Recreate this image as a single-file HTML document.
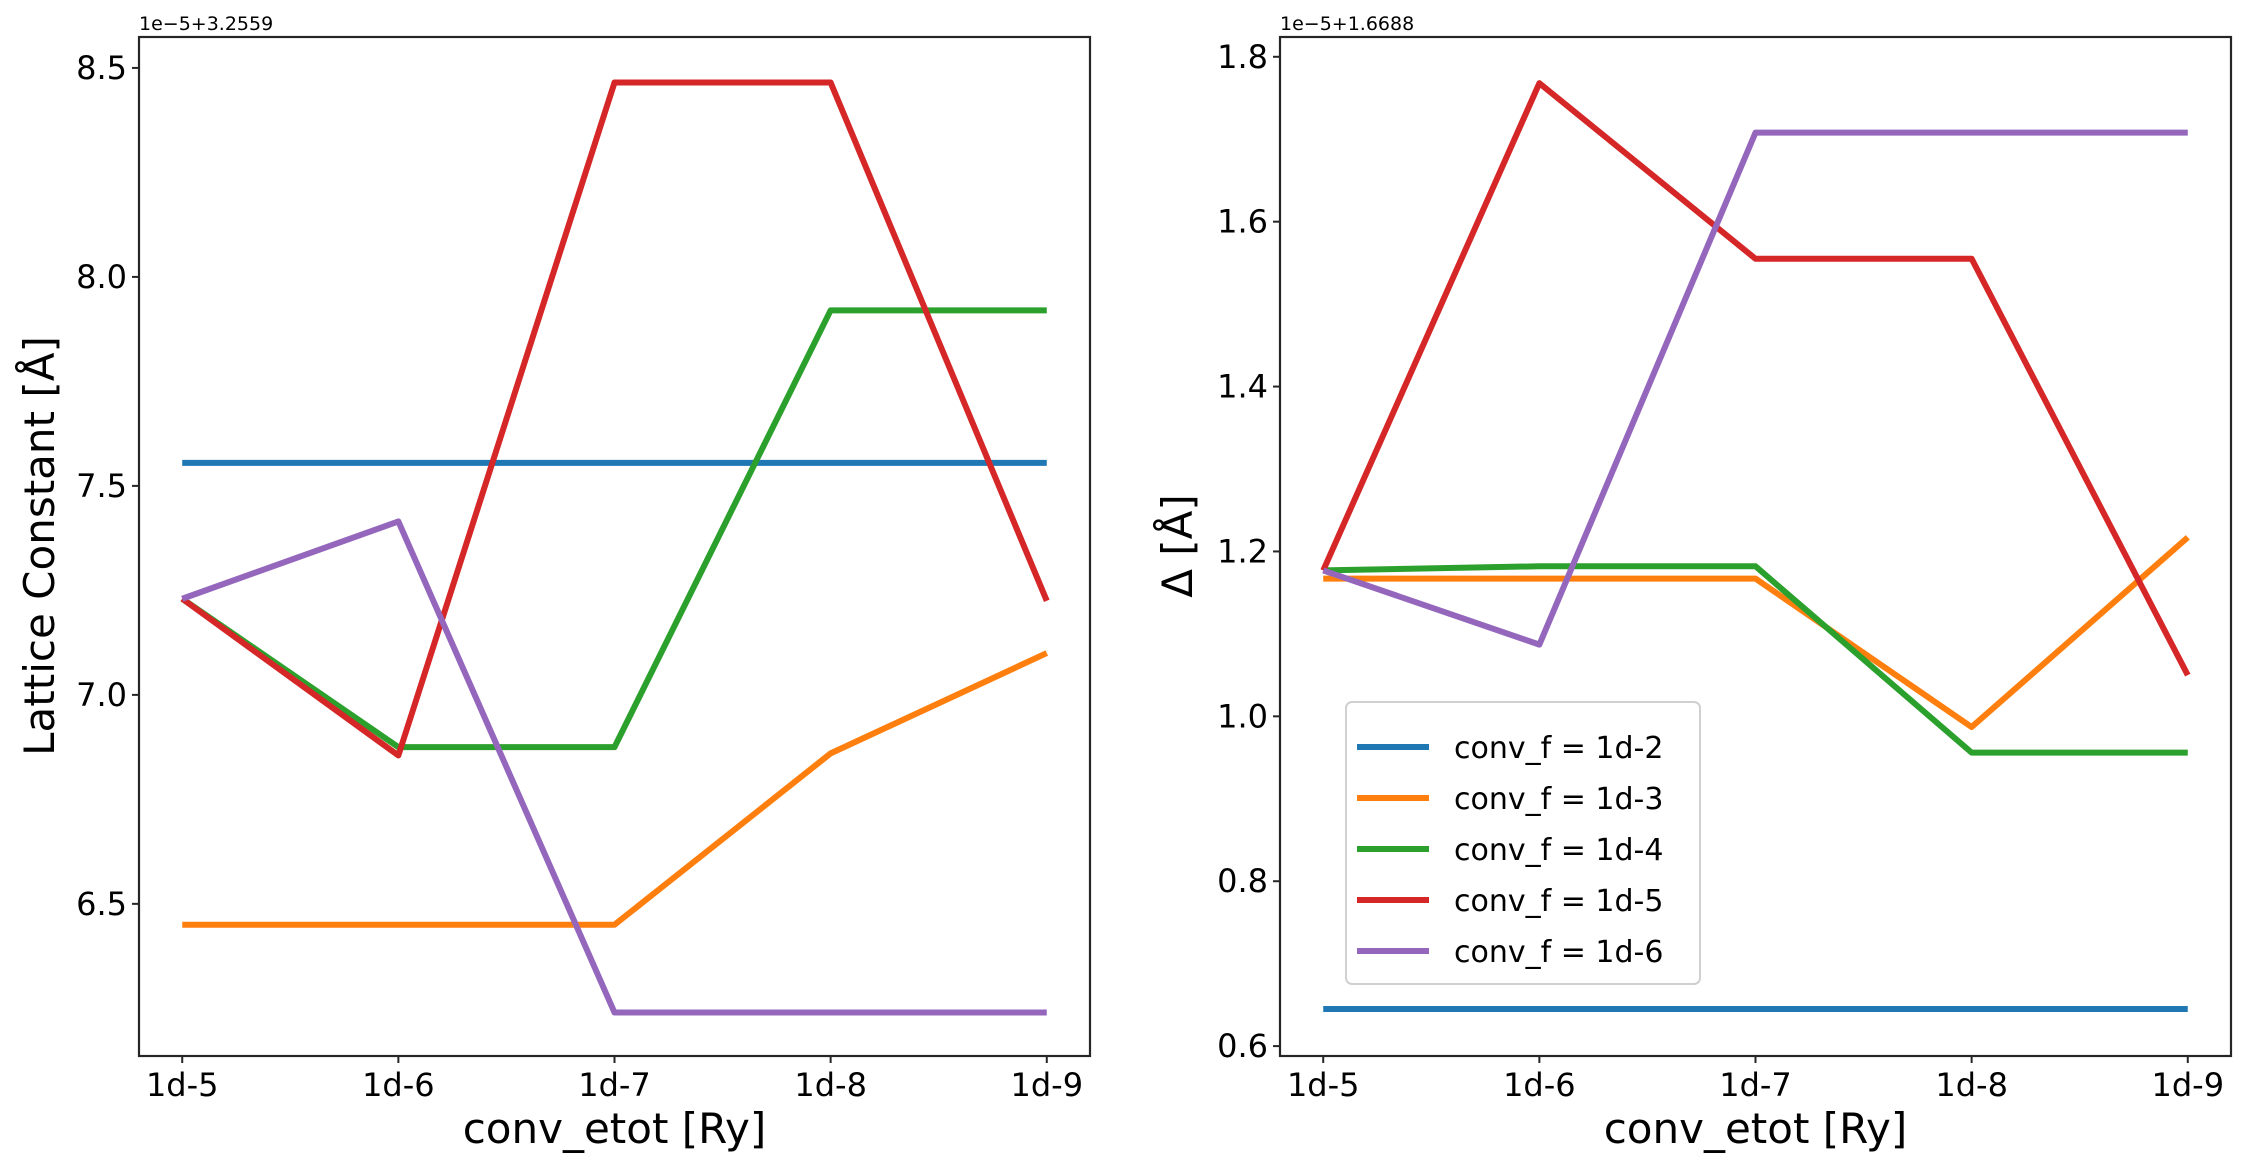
<!DOCTYPE html>
<html><head><meta charset="utf-8"><style>
body{margin:0;background:#fff}
svg{display:block;font-family:"DejaVu Sans","Liberation Sans",sans-serif}
</style></head><body>
<svg id="chart" width="2246" height="1168" viewBox="0 0 2246 1168" xmlns="http://www.w3.org/2000/svg"></svg>
<script>
const categories = ["1d-5","1d-6","1d-7","1d-8","1d-9"];
const seriesNames = ["conv_f = 1d-2","conv_f = 1d-3","conv_f = 1d-4","conv_f = 1d-5","conv_f = 1d-6"];
const colors = ["#1f77b4","#ff7f0e","#2ca02c","#d62728","#9467bd"];
const leftBlue = [7.555,7.555,7.555,7.555,7.555];
const leftOrange = [6.45,6.45,6.45,6.86,7.10];
const leftGreen = [7.23,6.875,6.875,7.92,7.92];
const leftRed = [7.23,6.855,8.465,8.465,7.225];
const leftPurple = [7.23,7.415,6.24,6.24,6.24];
const rightBlue = [0.645,0.645,0.645,0.645,0.645];
const rightOrange = [1.167,1.167,1.167,0.987,1.217];
const rightGreen = [1.177,1.182,1.182,0.956,0.956];
const rightRed = [1.177,1.768,1.555,1.555,1.05];
const rightPurple = [1.177,1.087,1.708,1.708,1.708];
const leftTicks = [6.5,7.0,7.5,8.0,8.5];
const rightTicks = [0.6,0.8,1.0,1.2,1.4,1.6,1.8];

const NS="http://www.w3.org/2000/svg";
const svg=document.getElementById('chart');
function mk(tag,attrs,parent){const e=document.createElementNS(NS,tag);for(const k in attrs)e.setAttribute(k,attrs[k]);(parent||svg).appendChild(e);return e;}

function panel(x0,yMin,yMax,ticks,tickFmt,series,offset,ylabel,ylx,prefix){
  const W=951,top=37,bot=1056;
  const g=mk('g',{});
  
  
  const X=i=>x0+W/22+(W/1.1)*i/(categories.length-1);
  const Y=v=>bot-(v-yMin)/(yMax-yMin)*(bot-top);
  series.forEach((s,si)=>{
    const p=mk('polyline',{points:s.map((v,i)=>X(i)+','+Y(v)).join(' '),fill:'none',stroke:colors[si],'stroke-width':6,'stroke-linejoin':'round'},g);
    
    
  });
  const fr=mk('rect',{x:x0,y:top,width:W,height:bot-top,fill:'none',stroke:'#262626','stroke-width':2.2},g);
  
  
  categories.forEach((c,i)=>{
    mk('line',{x1:X(i),x2:X(i),y1:bot,y2:bot+7,stroke:'#262626','stroke-width':2},g);
    const t=mk('text',{x:X(i),y:1096,'text-anchor':'middle','font-size':32},g);t.textContent=c;
    
    
  });
  ticks.forEach(v=>{
    mk('line',{x1:x0-7,x2:x0,y1:Y(v),y2:Y(v),stroke:'#262626','stroke-width':2},g);
    const t=mk('text',{x:x0-12,y:Y(v)+11,'text-anchor':'end','font-size':32},g);t.textContent=tickFmt(v);
    
    
  });
  const o=mk('text',{x:x0,y:30,'font-size':19},g);o.textContent=offset;
  
  
  const xl=mk('text',{x:x0+W/2,y:1143,'text-anchor':'middle','font-size':42},g);xl.textContent='conv_etot [Ry]';
  
  
  const yl=mk('text',{x:ylx,y:546,'text-anchor':'middle','font-size':42,transform:`rotate(-90 ${ylx} 546)`},g);yl.textContent=ylabel;
  
  
}
panel(139,6.136,8.574,leftTicks,v=>v.toFixed(1),[leftBlue,leftOrange,leftGreen,leftRed,leftPurple],'1e\u22125+3.2559','Lattice Constant [\u00C5]',54,'left');
panel(1280,0.588,1.824,rightTicks,v=>v.toFixed(1),[rightBlue,rightOrange,rightGreen,rightRed,rightPurple],'1e\u22125+1.6688','\u0394 [\u00C5]',1192,'right');

const lg=mk('g',{});


mk('rect',{x:1346,y:702,width:354,height:282,rx:6,fill:'#fff','fill-opacity':0.8,stroke:'#d0d0d0','stroke-width':2},lg);
seriesNames.forEach((n,i)=>{
  const y=747+i*51;
  const e=mk('g',{},lg);
  
  
  mk('line',{x1:1357,x2:1429,y1:y,y2:y,stroke:colors[i],'stroke-width':6},e);
  const t=mk('text',{x:1454,y:y+11,'font-size':30},e);t.textContent=n;
});
</script>
</body></html>
